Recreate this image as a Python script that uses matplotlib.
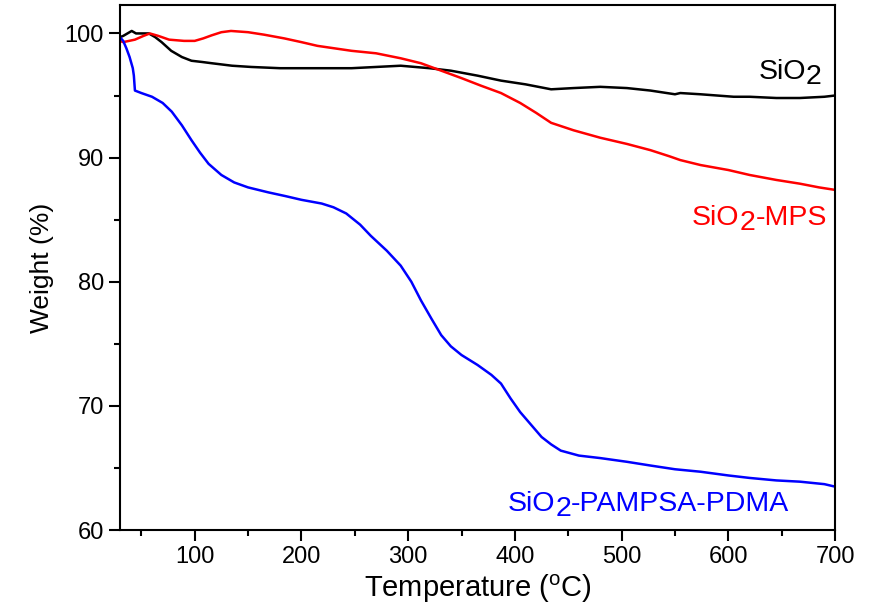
import matplotlib
matplotlib.use("Agg")
import matplotlib.pyplot as plt
from matplotlib.ticker import MultipleLocator

plt.rcParams['font.family'] = ['Liberation Sans', 'DejaVu Sans']

# TGA curves (temperature in C, weight in %)
sio2_t = [30, 33, 37, 41, 45, 50, 57, 63, 69, 78, 88, 97, 107, 116, 135, 153,
          180, 200, 247, 293, 320, 340, 365, 387, 410, 434, 455, 480, 505, 527,
          550, 555, 574, 605, 620, 645, 667, 690, 700]
sio2_w = [99.7, 99.8, 100.0, 100.2, 100.0, 100.0, 100.0, 99.7, 99.3, 98.6, 98.1,
          97.8, 97.7, 97.6, 97.4, 97.3, 97.2, 97.2, 97.2, 97.4, 97.2, 97.0, 96.6,
          96.2, 95.9, 95.5, 95.6, 95.7, 95.6, 95.4, 95.1, 95.2, 95.1, 94.9, 94.9,
          94.8, 94.8, 94.9, 95.0]

mps_t = [30, 33, 44, 52, 58, 66, 76, 90, 100, 108, 116, 125, 134, 150, 165, 184,
         200, 215, 247, 270, 293, 312, 331, 350, 368, 387, 405, 420, 434, 455,
         480, 505, 527, 545, 555, 574, 600, 620, 645, 667, 685, 700]
mps_w = [99.4, 99.3, 99.5, 99.8, 100.0, 99.8, 99.5, 99.4, 99.4, 99.6, 99.85,
         100.1, 100.2, 100.1, 99.9, 99.6, 99.3, 99.0, 98.6, 98.4, 98.0, 97.6, 97.0,
         96.4, 95.8, 95.2, 94.4, 93.6, 92.8, 92.2, 91.6, 91.1, 90.6, 90.1, 89.8,
         89.4, 89.0, 88.6, 88.2, 87.9, 87.6, 87.4]

pdma_t = [30, 33, 36, 39, 42, 43, 44, 50, 60, 70, 78.5, 88, 97, 105, 113, 125,
          137, 150, 169, 185, 200, 219, 230, 242, 255, 265, 280, 293, 303, 312,
          322, 331, 340, 350, 365, 378, 387, 396, 405, 415, 425, 434, 443, 460,
          480, 505, 527, 550, 574, 600, 620, 645, 667, 690, 700]
pdma_w = [99.7, 99.4, 98.8, 98.1, 97.2, 96.6, 95.4, 95.2, 94.9, 94.4, 93.7, 92.6,
          91.4, 90.4, 89.5, 88.6, 88.0, 87.6, 87.2, 86.9, 86.6, 86.3, 86.0, 85.5,
          84.6, 83.7, 82.5, 81.3, 80.0, 78.5, 77.0, 75.7, 74.8, 74.1, 73.3, 72.5,
          71.8, 70.6, 69.5, 68.5, 67.5, 66.9, 66.4, 66.0, 65.8, 65.5, 65.2, 64.9,
          64.7, 64.4, 64.2, 64.0, 63.9, 63.7, 63.5]

# curve names: (text after the subscript 2, colour, left x, baseline y)
names = [('', 'black', 628, 96.3),
         ('-MPS', 'red', 566, 84.55),
         ('-PAMPSA-PDMA', 'blue', 393.5, 61.55)]

fig = plt.figure(figsize=(8.79, 6.10), dpi=100)
ax = fig.add_axes([0.1365, 0.131, 0.8135, 0.861])

ax.plot(sio2_t, sio2_w, color='black', lw=1.8)
ax.plot(mps_t, mps_w, color='red', lw=1.8)
ax.plot(pdma_t, pdma_w, color='blue', lw=1.8)

# "SiO" + full size lowered "2" + rest, chained so the pieces sit side by side
for rest, c, x0, y0 in names:
    t1 = ax.text(x0, y0, 'SiO', color=c, fontsize=20.5, ha='left', va='baseline')
    t2 = ax.annotate('2', xy=(1, 0), xycoords=t1, xytext=(0, -5),
                     textcoords='offset pixels', color=c, fontsize=20.5,
                     ha='left', va='bottom')
    if rest:
        ax.annotate(rest, xy=(1, 0), xycoords=(t2, t1), color=c, fontsize=20.5,
                    ha='left', va='bottom')

ax.set_xlim(30, 700)
ax.set_ylim(60, 102.3)
ax.xaxis.set_major_locator(MultipleLocator(100))
ax.xaxis.set_minor_locator(MultipleLocator(50))
ax.yaxis.set_major_locator(MultipleLocator(10))
ax.yaxis.set_minor_locator(MultipleLocator(5))
ax.tick_params(which='both', direction='out', width=1.5, labelsize=17)
ax.tick_params(which='major', length=8)
ax.tick_params(which='minor', length=4)
for s in ax.spines.values():
    s.set_linewidth(1.5)

ax.set_xlabel(r'Temperature ($^\mathregular{o}$C)', fontsize=21, labelpad=3)
ax.set_ylabel('Weight (%)', fontsize=19, labelpad=8)

fig.savefig('out.png', dpi=100)
